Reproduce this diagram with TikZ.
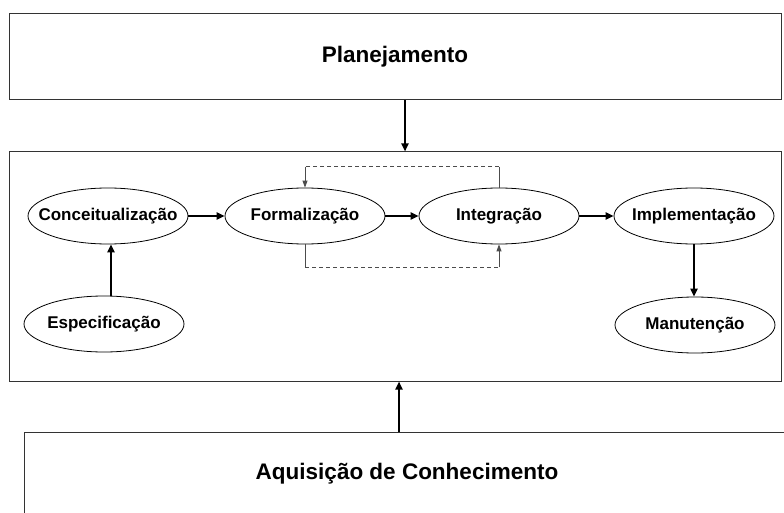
\documentclass[tikz,border=0pt]{standalone}
\usepackage{fontspec}
\setmainfont{Liberation Sans}
\usetikzlibrary{arrows.meta,shapes.geometric}
\newcommand{\zerow}[1]{\makebox[0pt][c]{#1}}
\begin{document}
\begin{tikzpicture}[x=1pt,y=-1pt,
  box/.style={draw=black!80,line width=1pt,inner sep=0pt},
  proc/.style={ellipse,draw=black,line width=0.8pt,minimum width=160pt,minimum height=56pt,inner sep=0pt,font=\bfseries\fontsize{17}{19}\selectfont},
  flow/.style={line width=2.4pt,-{Triangle[length=8pt,width=7pt]}},
  loopdash/.style={line width=0.9pt,black!70,dash pattern=on 4pt off 3pt},
  loopsolid/.style={line width=0.9pt,black!70},
  looparrow/.style={line width=0.9pt,black!70,-{Triangle[length=7pt,width=5pt]}},
  title/.style={font=\bfseries\fontsize{22.5}{26}\selectfont}]
\useasboundingbox (0,0) rectangle (784,513);
\clip (0,0) rectangle (784,513);
\fill[white] (0,0) rectangle (784,513);
% boxes
\node[box,title,minimum width=772pt,minimum height=86pt] (plan) at (395,57) {Planejamento};
\node[box,minimum width=772pt,minimum height=229pt] (mid) at (395,266.5) {};
\node[box,minimum width=766pt,minimum height=98pt] (acq) at (407,481) {};
\node[title] (acqtext) at (acq.center |- 0,474) {Aquisição de Conhecimento};
% processes
\node[proc] (conc) at (108,216) {\zerow{Conceitualização}};
\node[proc] (form) at (305,216) {\zerow{Formalização}};
\node[proc] (integ) at (499,216) {\zerow{Integração}};
\node[proc] (impl) at (694,216) {\zerow{Implementação}};
\node[proc] (espec) at (104,324) {\zerow{Especificação}};
\node[proc] (manut) at (695,325) {\zerow{Manutenção}};
% main arrows
\draw[flow] ([xshift=10pt]plan.south) -- ([xshift=10pt]plan.south |- mid.north);
\draw[flow] ([xshift=-8pt]acq.north) -- ([xshift=-8pt]acq.north |- mid.south);
\coordinate (ax) at (111,0);
\draw[flow] (ax |- espec.north) -- (ax |- conc.south);
\draw[flow] (conc.east) -- (form.west);
\draw[flow] (form.east) -- (integ.west);
\draw[flow] (integ.east) -- (impl.west);
\draw[flow] (impl.south) -- (impl.south |- manut.north);
% feedback loops
\draw[loopsolid] (integ.north) -- ++(0,-21) coordinate (t1);
\coordinate (t2) at (form.north |- t1);
\draw[loopdash] (t1) -- (t2);
\draw[looparrow] (t2) -- (form.north);
\draw[loopsolid] (form.south) -- ++(0,23) coordinate (b1);
\coordinate (b2) at (integ.south |- b1);
\draw[loopdash] (b1) -- (b2);
\draw[looparrow] (b2) -- (integ.south);
\end{tikzpicture}
\end{document}
